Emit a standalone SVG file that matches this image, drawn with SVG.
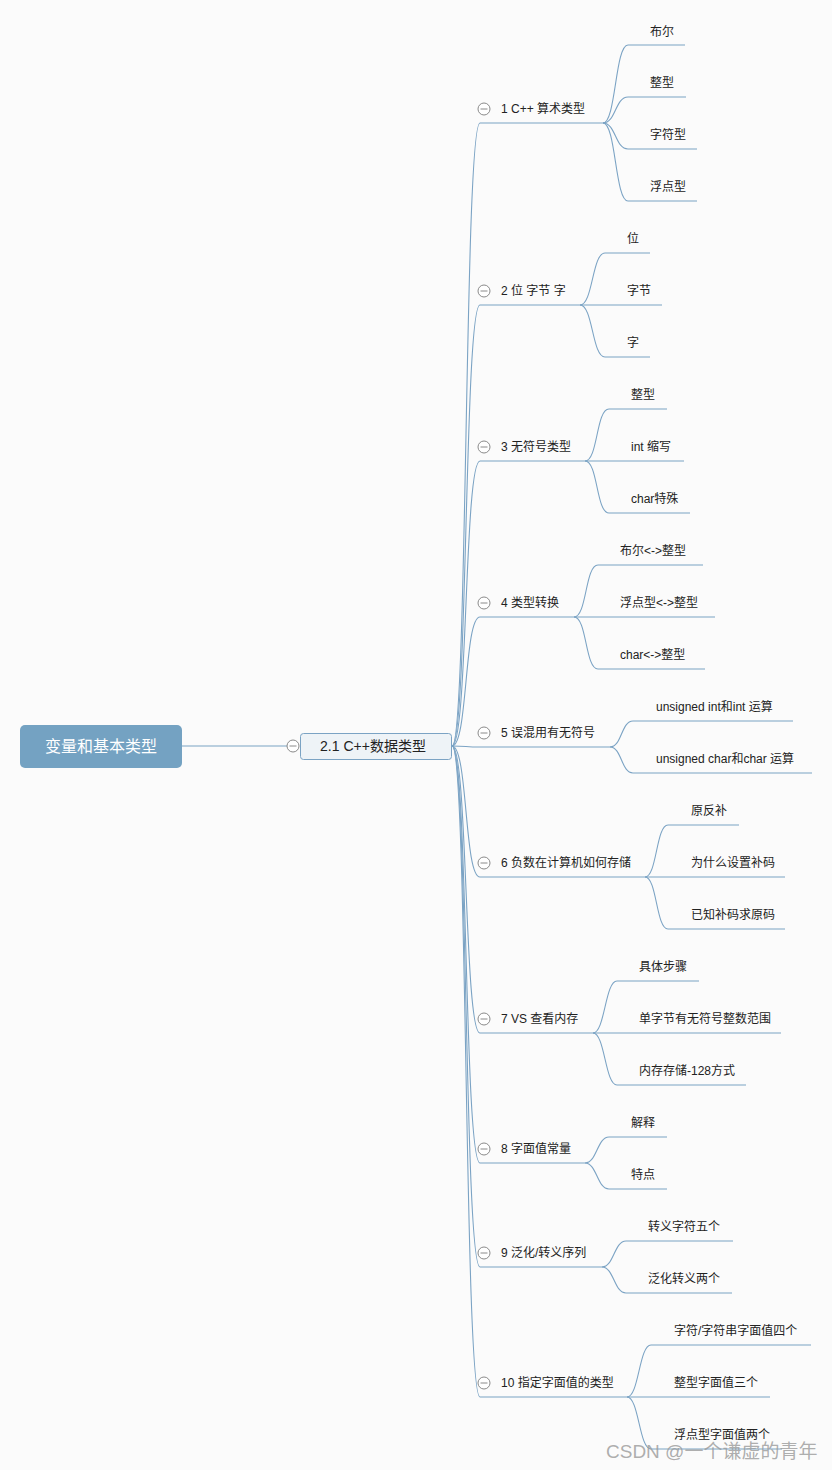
<svg xmlns="http://www.w3.org/2000/svg" width="832" height="1470" viewBox="0 0 832 1470">
<style>
text{font-family:"Liberation Sans","Noto Sans CJK SC",sans-serif;fill:#222}
.t1{font-size:12px}
.t2{font-size:12px}
.ln{fill:none;stroke:#7ba3c4;stroke-width:1.1}
.col{fill:#fff;stroke:#8a8a8a;stroke-width:1}
.colm{stroke:#8a8a8a;stroke-width:1}
</style>
<defs>
<g id="collapse"><circle class="col" r="6"/><line class="colm" x1="-3.5" y1="0" x2="3.5" y2="0"/></g>
</defs>
<rect width="832" height="1470" fill="#fbfbfb"/>
<g id="connectors">
<path class="ln" d="M182,746 H288"/>
<path class="ln" d="M452,746 C468,746 464,123 480,123 H603"/>
<path class="ln" d="M452,746 C468,746 464,305 480,305 H580"/>
<path class="ln" d="M452,746 C468,746 464,461 480,461 H585"/>
<path class="ln" d="M452,746 C468,746 464,617 480,617 H574"/>
<path class="ln" d="M452,746 C468,746 464,747 480,747 H610"/>
<path class="ln" d="M452,746 C468,746 464,877 480,877 H645"/>
<path class="ln" d="M452,746 C468,746 464,1033 480,1033 H593"/>
<path class="ln" d="M452,746 C468,746 464,1163 480,1163 H585"/>
<path class="ln" d="M452,746 C468,746 464,1267 480,1267 H602"/>
<path class="ln" d="M452,746 C468,746 464,1397 480,1397 H627"/>
<path class="ln" d="M603,123 C616,123 615,45 628,45 H685"/>
<path class="ln" d="M603,123 C616,123 615,97 628,97 H686"/>
<path class="ln" d="M603,123 C616,123 615,149 628,149 H697"/>
<path class="ln" d="M603,123 C616,123 615,201 628,201 H697"/>
<path class="ln" d="M580,305 C593,305 592,253 605,253 H650"/>
<path class="ln" d="M580,305 C593,305 592,305 605,305 H662"/>
<path class="ln" d="M580,305 C593,305 592,357 605,357 H650"/>
<path class="ln" d="M585,461 C598,461 596,409 609,409 H667"/>
<path class="ln" d="M585,461 C598,461 596,461 609,461 H684"/>
<path class="ln" d="M585,461 C598,461 596,513 609,513 H690"/>
<path class="ln" d="M574,617 C587,617 585,565 598,565 H703"/>
<path class="ln" d="M574,617 C587,617 585,617 598,617 H715"/>
<path class="ln" d="M574,617 C587,617 585,669 598,669 H705"/>
<path class="ln" d="M610,747 C622,747 621,721 633,721 H793"/>
<path class="ln" d="M610,747 C622,747 621,773 633,773 H812"/>
<path class="ln" d="M645,877 C657,877 656,825 668,825 H739"/>
<path class="ln" d="M645,877 C657,877 656,877 668,877 H785"/>
<path class="ln" d="M645,877 C657,877 656,929 668,929 H785"/>
<path class="ln" d="M593,1033 C605,1033 605,981 617,981 H699"/>
<path class="ln" d="M593,1033 C605,1033 605,1033 617,1033 H781"/>
<path class="ln" d="M593,1033 C605,1033 605,1085 617,1085 H746"/>
<path class="ln" d="M585,1163 C597,1163 597,1137 609,1137 H667"/>
<path class="ln" d="M585,1163 C597,1163 597,1189 609,1189 H667"/>
<path class="ln" d="M602,1267 C614,1267 614,1241 626,1241 H733"/>
<path class="ln" d="M602,1267 C614,1267 614,1293 626,1293 H732"/>
<path class="ln" d="M627,1397 C639,1397 639,1345 651,1345 H811"/>
<path class="ln" d="M627,1397 C639,1397 639,1397 651,1397 H770"/>
<path class="ln" d="M627,1397 C639,1397 639,1449 651,1449 H782"/>
</g>
<g id="root">
<rect x="20" y="725" width="162" height="43" rx="5" fill="#74a2c2"/>
<text x="101" y="752" text-anchor="middle" style="font-size:16px;fill:#fff">变量和基本类型</text>
</g>
<g id="n21">
<use href="#collapse" x="293" y="746"/>
<rect x="300.5" y="733.5" width="151" height="26" rx="3" fill="#eef3f7" stroke="#7ba3c4"/>
<text x="373" y="751" text-anchor="middle" style="font-size:14px">2.1 C++数据类型</text>
</g>
<g id="n1"><use href="#collapse" x="484" y="109"/><text class="t1" x="501" y="113">1 C++ 算术类型</text></g>
<g id="n1a"><text class="t2" x="650" y="36">布尔</text></g>
<g id="n1b"><text class="t2" x="650" y="87">整型</text></g>
<g id="n1c"><text class="t2" x="650" y="139">字符型</text></g>
<g id="n1d"><text class="t2" x="650" y="191">浮点型</text></g>
<g id="n2"><use href="#collapse" x="484" y="291"/><text class="t1" x="501" y="295">2 位 字节 字</text></g>
<g id="n2a"><text class="t2" x="627" y="243">位</text></g>
<g id="n2b"><text class="t2" x="627" y="295">字节</text></g>
<g id="n2c"><text class="t2" x="627" y="347">字</text></g>
<g id="n3"><use href="#collapse" x="484" y="447"/><text class="t1" x="501" y="451">3 无符号类型</text></g>
<g id="n3a"><text class="t2" x="631" y="399">整型</text></g>
<g id="n3b"><text class="t2" x="631" y="451">int 缩写</text></g>
<g id="n3c"><text class="t2" x="631" y="503">char特殊</text></g>
<g id="n4"><use href="#collapse" x="484" y="603"/><text class="t1" x="501" y="607">4 类型转换</text></g>
<g id="n4a"><text class="t2" x="620" y="555">布尔&lt;-&gt;整型</text></g>
<g id="n4b"><text class="t2" x="620" y="607">浮点型&lt;-&gt;整型</text></g>
<g id="n4c"><text class="t2" x="620" y="659">char&lt;-&gt;整型</text></g>
<g id="n5"><use href="#collapse" x="484" y="733"/><text class="t1" x="501" y="737">5 误混用有无符号</text></g>
<g id="n5a"><text class="t2" x="656" y="711">unsigned int和int 运算</text></g>
<g id="n5b"><text class="t2" x="656" y="763">unsigned char和char 运算</text></g>
<g id="n6"><use href="#collapse" x="484" y="863"/><text class="t1" x="501" y="867">6 负数在计算机如何存储</text></g>
<g id="n6a"><text class="t2" x="691" y="815">原反补</text></g>
<g id="n6b"><text class="t2" x="691" y="867">为什么设置补码</text></g>
<g id="n6c"><text class="t2" x="691" y="919">已知补码求原码</text></g>
<g id="n7"><use href="#collapse" x="484" y="1019"/><text class="t1" x="501" y="1023">7 VS 查看内存</text></g>
<g id="n7a"><text class="t2" x="639" y="971">具体步骤</text></g>
<g id="n7b"><text class="t2" x="639" y="1023">单字节有无符号整数范围</text></g>
<g id="n7c"><text class="t2" x="639" y="1075">内存存储-128方式</text></g>
<g id="n8"><use href="#collapse" x="484" y="1149"/><text class="t1" x="501" y="1153">8 字面值常量</text></g>
<g id="n8a"><text class="t2" x="631" y="1127">解释</text></g>
<g id="n8b"><text class="t2" x="631" y="1179">特点</text></g>
<g id="n9"><use href="#collapse" x="484" y="1253"/><text class="t1" x="501" y="1257">9 泛化/转义序列</text></g>
<g id="n9a"><text class="t2" x="648" y="1231">转义字符五个</text></g>
<g id="n9b"><text class="t2" x="648" y="1283">泛化转义两个</text></g>
<g id="n10"><use href="#collapse" x="484" y="1383"/><text class="t1" x="501" y="1387">10 指定字面值的类型</text></g>
<g id="n10a"><text class="t2" x="674" y="1335">字符/字符串字面值四个</text></g>
<g id="n10b"><text class="t2" x="674" y="1387">整型字面值三个</text></g>
<g id="n10c"><text class="t2" x="674" y="1439">浮点型字面值两个</text></g>
<text x="606" y="1458" style="font-size:19px;fill:#999;fill-opacity:0.8">CSDN @一个谦虚的青年</text>
</svg>
